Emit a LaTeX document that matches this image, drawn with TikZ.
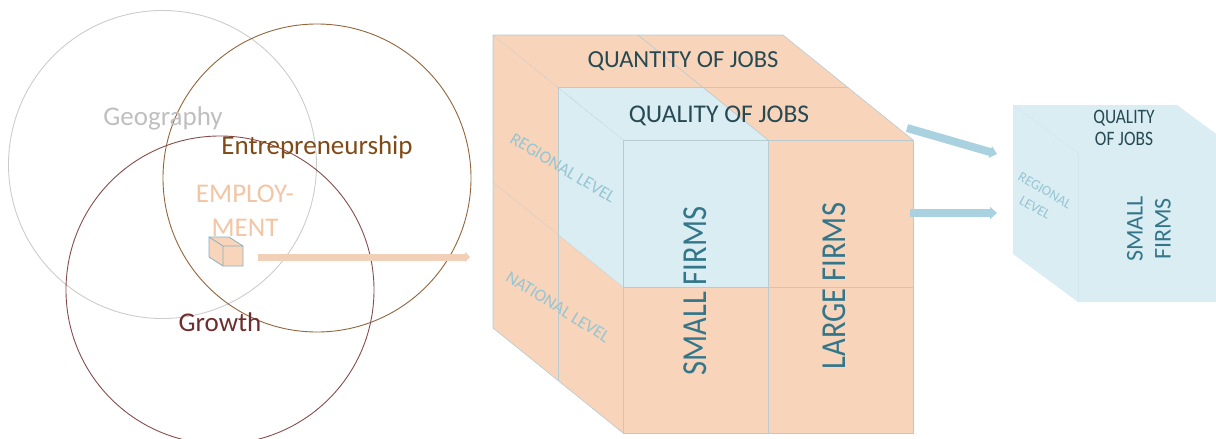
\documentclass[tikz,border=0pt]{standalone}
\usepackage{fontspec}
\setmainfont{Carlito}
\usetikzlibrary{arrows.meta}
\definecolor{jbpeach}{HTML}{F8D4BA}
\definecolor{jbblue}{HTML}{DAEDF3}
\definecolor{jbedge}{HTML}{B7CBD1}
\definecolor{jbdark}{HTML}{264A53}
\definecolor{jbteal}{HTML}{33768A}
\definecolor{jblight}{HTML}{96C5D3}
\definecolor{jbarrow}{HTML}{A9D1E0}
\definecolor{jbgeo}{HTML}{BFBFBF}
\definecolor{jbent}{HTML}{7F4A17}
\definecolor{jbgro}{HTML}{6E2E2E}
\definecolor{jbemp}{HTML}{F2C5A4}

\begin{document}
\begin{tikzpicture}[
  x=1pt, y=-1pt,
  vennln/.style={line width=0.9pt},
  lbl/.style={font=\fontsize{27}{32}\selectfont, anchor=base, inner sep=0pt},
  jobtxt/.style={font=\fontsize{24.5}{30}\selectfont, text=jbdark, anchor=base, inner sep=0pt},
  firmtxt/.style={font=\fontsize{30.5}{34}\selectfont, text=jbteal, rotate=90, yscale=1.15, inner sep=0pt},
  lvltxt/.style={font=\fontsize{17.5}{20}\selectfont, text=jblight, rotate=-31, inner sep=0pt},
  gridln/.style={jbedge, line width=0.6pt},
  dotln/.style={jbedge, line width=0.6pt, densely dotted},
  flow/.style={-{Triangle[length=7pt,width=12pt]}, jbarrow, line width=8pt},
]
  \useasboundingbox (0,0) rectangle (1216,439);
  \clip (0,0) rectangle (1216,439);

  %% ── Venn ──
  \draw[vennln, jbgeo!80] (162.5,164.5) circle[radius=154pt];
  \draw[vennln, jbent!85!white] (317,178) circle[radius=154pt];
  \draw[vennln, jbgro!85!white] (220,290) circle[radius=154pt];

  \node[lbl, text=jbgeo]  (geo)  at (163,125) {Geography};
  \node[lbl, text=jbent]  (ent)  at (317,154) {Entrepreneurship};
  \node[lbl, text=jbemp]  (emp)  at (245,202) {EMPLOY-};
  \node[lbl, text=jbemp]  (ment) at (245,236) {MENT};
  \node[lbl, text=jbgro]  (gro)  at (220,331) {Growth};

  %% ── small cube in the middle ──
  \filldraw[fill=jbpeach, draw=jblight!90!black, line width=0.8pt]
    (209,237) -- (229,237) -- (243,246) -- (243,266) -- (223,266) -- (209,257) -- cycle;
  \draw[jblight!90!black, line width=0.8pt]
    (209,237) -- (223,246) -- (243,246) (223,246) -- (223,266);

  \coordinate (mini) at (258,257);
  \coordinate (bigin) at (470,257);
  \draw[-{Triangle[length=5pt,width=10pt]}, jbpeach!95!gray, line width=7pt] (mini) -- (bigin);

  %% ── big cube ──
  \fill[jbpeach] (493,35) -- (783,35) -- (913,140) -- (913,433) -- (623,433) -- (493,328) -- cycle;
  \fill[jbblue] (558,87.5) -- (703,87.5) -- (768,140) -- (768,287) -- (623,287) -- (558,234.5) -- cycle;

  % front face
  \draw[gridln] (623,140) rectangle (913,433);
  \draw[gridln] (768,140) -- (768,433) (623,287) -- (913,287);
  % top face
  \draw[gridln] (493,35) -- (783,35) -- (913,140);
  \draw[gridln] (638,35) -- (768,140) (558,87.5) -- (848,87.5);
  % left face
  \draw[gridln] (493,35) -- (493,328) -- (623,433);
  \draw[gridln] (558,87.5) -- (558,380.5);
  \draw[dotln] (493,35) -- (623,140) (493,182.5) -- (623,287);

  \node[jobtxt] (qty)  at (683,67)  {QUANTITY OF JOBS};
  \node[jobtxt, font=\fontsize{25.5}{30}\selectfont] (qual) at (719,122) {QUALITY OF JOBS};
  \node[lvltxt] (reg) at (563,168) {REGIONAL LEVEL};
  \node[lvltxt, rotate=-1] (nat) at (558,307) {NATIONAL LEVEL};
  \node[firmtxt] (small) at (695,291) {SMALL FIRMS};
  \node[firmtxt] (large) at (834,286) {LARGE FIRMS};

  %% ── arrows to the detail ──
  \coordinate (out1) at (907,128);
  \coordinate (in1)  at (997,154);
  \coordinate (out2) at (910,213);
  \coordinate (in2)  at (997,213);
  \draw[flow] (out1) -- (in1);
  \draw[flow] (out2) -- (in2);

  %% ── detail cube ──
  \fill[jbblue] (1013,105) -- (1177,105) -- (1242,153) -- (1242,302) -- (1078,302) -- (1013,254) -- cycle;
  \draw[gridln, jbblue!80!jbedge] (1078,153) -- (1078,302);
  \draw[dotln, jbblue!60!jbedge] (1013,105) -- (1078,153);

  \node[font=\fontsize{20.5}{22}\selectfont, text=jbdark, align=center, xscale=0.85, inner sep=0pt]
    (qual2) at (1124,128) {QUALITY\\OF JOBS};
  \node[font=\fontsize{14}{20}\selectfont, text=jblight, align=center, rotate=-30, inner sep=0pt]
    (reg2) at (1040,199) {REGIONAL\\LEVEL};
  \node[font=\fontsize{24}{28}\selectfont, text=jbteal, align=center, rotate=90, inner sep=0pt]
    (small2) at (1149,229) {SMALL\\FIRMS};

\end{tikzpicture}
\end{document}
